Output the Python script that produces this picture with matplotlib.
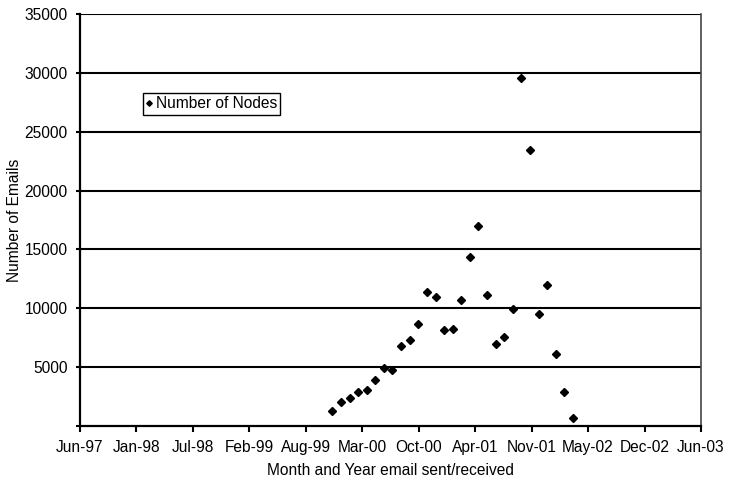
import matplotlib
matplotlib.use("Agg")
import matplotlib.pyplot as plt
import matplotlib.dates as mdates
import datetime as dt

# monthly counts, Dec-99 .. Apr-02
months = ["1999-12", "2000-01", "2000-02", "2000-03", "2000-04", "2000-05",
          "2000-06", "2000-07", "2000-08", "2000-09", "2000-10", "2000-11",
          "2000-12", "2001-01", "2001-02", "2001-03", "2001-04", "2001-05",
          "2001-06", "2001-07", "2001-08", "2001-09", "2001-10", "2001-11",
          "2001-12", "2002-01", "2002-02", "2002-03", "2002-04"]
nodes = [1250, 2050, 2350, 2900, 3050, 3900, 4950, 4750, 6770, 7280,
         8640, 11410, 10930, 8130, 8240, 10700, 14380, 16990, 11150, 6990,
         7535, 9910, 29560, 23420, 9490, 11980, 6090, 2860, 705]
yticks = [0, 5000, 10000, 15000, 20000, 25000, 30000, 35000]
ytick_labels = ["", "5000", "10000", "15000", "20000", "25000", "30000", "35000"]

dates = [dt.datetime.strptime(m + "-01", "%Y-%m-%d") for m in months]
x_start = dt.datetime(1997, 6, 20)
xticks = [x_start + dt.timedelta(days=200 * k) for k in range(12)]

plt.rcParams['font.family'] = ['Liberation Sans', 'DejaVu Sans']
fs = 11.2

fig = plt.figure(figsize=(7.33, 4.78), dpi=100)
ax = fig.add_axes([80 / 733, 52 / 478, 621 / 733, 412 / 478])

ax.plot(dates, nodes, linestyle="none", marker="D", ms=4.0, color="black",
        label="Number of Nodes", zorder=3)

ax.set_xlim(xticks[0], xticks[-1])
ax.set_ylim(0, 35000)
ax.set_xticks(xticks)
ax.xaxis.set_major_formatter(mdates.DateFormatter("%b-%y"))
ax.set_yticks(yticks)
ax.set_yticklabels(ytick_labels)

# horizontal gridlines
for v in yticks[1:]:
    ax.axhline(v, color="black", lw=1.5, zorder=1)

ax.spines["top"].set_visible(False)
ax.spines["left"].set_linewidth(1.6)
ax.spines["bottom"].set_linewidth(1.6)
ax.spines["right"].set_linewidth(1.2)
ax.spines["right"].set_color("#444444")

ax.tick_params(axis="y", direction="out", length=3, width=1.5, pad=6,
               labelsize=fs)
ax.tick_params(axis="x", direction="out", length=4, width=1.5, pad=6,
               labelsize=fs)

ax.set_xlabel("Month and Year email sent/received", fontsize=fs, labelpad=6)
ax.set_ylabel("Number of Emails", fontsize=fs)
ax.yaxis.set_label_coords(-0.094, 0.5)

leg = ax.legend(loc="upper left",
                bbox_to_anchor=(142.7 / 733, (478 - 93.3) / 478),
                bbox_transform=fig.transFigure, borderaxespad=0, fontsize=fs,
                fancybox=False, framealpha=1, edgecolor="black",
                handlelength=0.4, handletextpad=0.25, borderpad=0.2,
                markerscale=0.7)
leg.get_frame().set_linewidth(1.0)

fig.savefig("out.png", dpi=100)
